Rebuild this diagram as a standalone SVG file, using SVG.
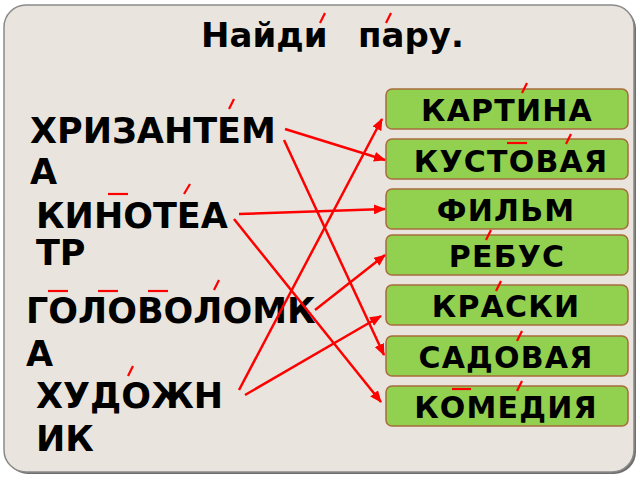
<svg xmlns="http://www.w3.org/2000/svg" width="640" height="480" viewBox="0 0 640 480">
<defs>
<style>
.t{font-family:"DejaVu Sans","Liberation Sans",sans-serif;font-weight:bold;fill:#000}
.left{font-size:35px}
.box rect{fill:#92D050;stroke:#A86B3C;stroke-width:1.5}
.box text{font-size:30px;letter-spacing:1.2px;text-anchor:middle}
.acc{stroke:#FF0000;stroke-width:2.2;fill:none}
.con line{stroke:#FF0000;stroke-width:2.5;marker-end:url(#ah)}
</style>
<marker id="ah" markerUnits="userSpaceOnUse" markerWidth="12" markerHeight="10" refX="11" refY="5" orient="auto" viewBox="0 0 12 10">
<path d="M0,0 L12,5 L0,10 Z" fill="#FF0000"/>
</marker>
</defs>
<rect x="0" y="0" width="640" height="480" fill="#FFFFFF"/>
<rect x="6" y="7" width="630" height="467" rx="22" fill="#6E6E6E"/>
<rect x="4" y="5" width="630" height="467" rx="22" fill="#E9E5DE" stroke="#8A8A8A" stroke-width="1.5"/>

<g id="title">
<text class="t" x="201" y="47" font-size="34">Найди</text>
<text class="t" x="358" y="47" font-size="34">пару.</text>
<line class="acc" x1="320" y1="23" x2="325" y2="13"/>
<line class="acc" x1="386" y1="23" x2="391" y2="13"/>
</g>

<g id="w-hrizantema">
<text class="t left" x="30" y="143">ХРИЗАНТЕМ</text>
<text class="t left" x="30" y="184">А</text>
<line class="acc" x1="229" y1="109" x2="234" y2="99"/>
</g>
<g id="w-kinoteatr">
<text class="t left" x="36" y="228">КИНОТЕА</text>
<text class="t left" x="36" y="265">ТР</text>
<line class="acc" x1="108" y1="194" x2="128" y2="194"/>
<line class="acc" x1="184" y1="194" x2="190" y2="184"/>
</g>
<g id="w-golovolomka">
<text class="t left" x="26" y="323">ГОЛОВОЛОМК</text>
<text class="t left" x="26" y="366">А</text>
<line class="acc" x1="48" y1="291" x2="68" y2="291"/>
<line class="acc" x1="98" y1="291" x2="118" y2="291"/>
<line class="acc" x1="148" y1="291" x2="168" y2="291"/>
<line class="acc" x1="214" y1="290" x2="219" y2="280"/>
</g>
<g id="w-hudozhnik">
<text class="t left" x="36" y="408">ХУДОЖН</text>
<text class="t left" x="36" y="451">ИК</text>
<line class="acc" x1="128" y1="376" x2="133" y2="366"/>
</g>

<g id="b-kartina" class="box">
<rect x="386" y="89" width="242" height="40" rx="6"/>
<text class="t" x="507" y="121">КАРТИНА</text>
<line class="acc" x1="522" y1="93" x2="527" y2="83"/>
</g>
<g id="b-kustovaya" class="box">
<rect x="386" y="139" width="242" height="40" rx="6"/>
<text class="t" x="511" y="172">КУСТОВАЯ</text>
<line class="acc" x1="507" y1="143" x2="527" y2="143"/>
<line class="acc" x1="566" y1="144" x2="571" y2="134"/>
</g>
<g id="b-film" class="box">
<rect x="386" y="189" width="242" height="40" rx="6"/>
<text class="t" x="506" y="221">ФИЛЬМ</text>
</g>
<g id="b-rebus" class="box">
<rect x="386" y="235" width="242" height="40" rx="6"/>
<text class="t" x="507" y="267">РЕБУС</text>
<line class="acc" x1="486" y1="240" x2="491" y2="230"/>
</g>
<g id="b-kraski" class="box">
<rect x="386" y="285" width="242" height="40" rx="6"/>
<text class="t" x="506" y="317">КРАСКИ</text>
<line class="acc" x1="496" y1="291" x2="501" y2="281"/>
</g>
<g id="b-sadovaya" class="box">
<rect x="386" y="336" width="242" height="40" rx="6"/>
<text class="t" x="506" y="368">САДОВАЯ</text>
<line class="acc" x1="517" y1="341" x2="522" y2="331"/>
</g>
<g id="b-komediya" class="box">
<rect x="386" y="386" width="242" height="40" rx="6"/>
<text class="t" x="506" y="418">КОМЕДИЯ</text>
<line class="acc" x1="452" y1="389" x2="471" y2="389"/>
<line class="acc" x1="517" y1="391" x2="522" y2="381"/>
</g>

<g id="connectors" class="con">
<line x1="285" y1="129" x2="385" y2="160"/>
<line x1="284" y1="140" x2="384" y2="355"/>
<line x1="239" y1="214" x2="385" y2="209"/>
<line x1="234" y1="219" x2="381" y2="402"/>
<line x1="315" y1="310" x2="385" y2="255"/>
<line x1="239" y1="390" x2="382" y2="119"/>
<line x1="245" y1="395" x2="381" y2="316"/>
</g>
</svg>
